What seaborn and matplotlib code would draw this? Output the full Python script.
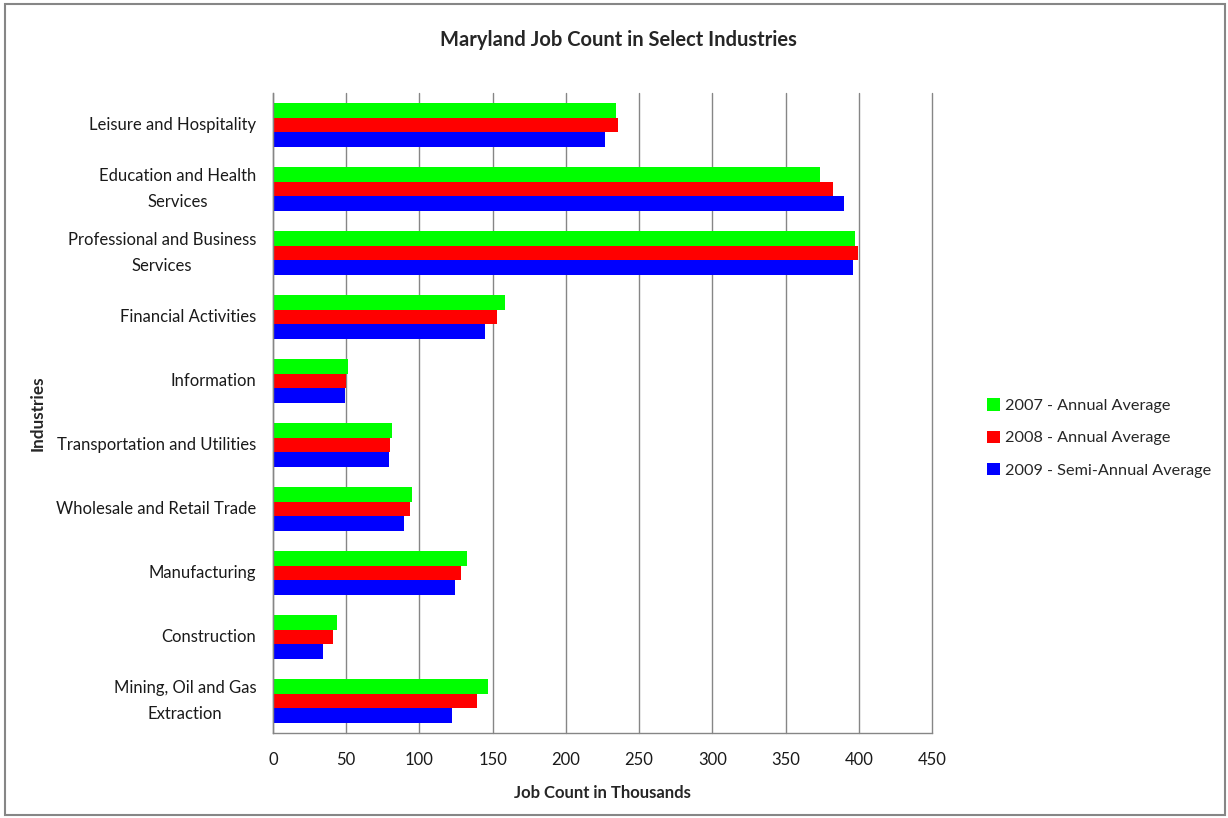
import matplotlib
matplotlib.use("Agg")
import matplotlib.pyplot as plt
import seaborn as sns
import pandas as pd
import numpy as np
from matplotlib.patches import Rectangle

industries = ["Leisure and Hospitality", "Education and Health\nServices",
              "Professional and Business\nServices", "Financial Activities",
              "Information", "Transportation and Utilities",
              "Wholesale and Retail Trade", "Manufacturing", "Construction",
              "Mining, Oil and Gas\nExtraction"]
series_names = ["2007 - Annual Average", "2008 - Annual Average",
                "2009 - Semi-Annual Average"]
v2007 = [234.0, 373.3, 397.2, 158.2, 51.0, 81.0, 94.7, 132.3, 43.5, 146.6]
v2008 = [235.4, 382.2, 399.3, 152.8, 49.6, 79.7, 93.4, 128.2, 40.8, 139.1]
v2009 = [226.5, 389.7, 395.8, 144.6, 49.0, 79.0, 89.3, 124.1, 34.0, 122.0]
colors = ["#00ff00", "#ff0000", "#0000ff"]
x_ticks = [0, 50, 100, 150, 200, 250, 300, 350, 400, 450]

rows = []
for name, vals in zip(series_names, [v2007, v2008, v2009]):
    for ind, v in zip(industries, vals):
        rows.append({"Industry": ind, "Series": name, "Value": v})
df = pd.DataFrame(rows)

sns.set_theme(style="white")
plt.rcParams["font.family"] = ["Lato", "DejaVu Sans"]

fig = plt.figure(figsize=(12.28, 8.18), dpi=100)
ax = fig.add_axes([273 / 1228, 1 - 733 / 818, (932 - 273) / 1228, (733 - 93) / 818])

sns.barplot(data=df, y="Industry", x="Value", hue="Series", order=industries,
            hue_order=series_names, palette=colors, width=0.69, saturation=1,
            orient="h", ax=ax, edgecolor="none", linewidth=0)

ax.set_xlim(0, 450)
ax.set_xticks(x_ticks)
ax.set_xticklabels([str(t) for t in x_ticks], fontsize=12, color="#1a1a1a")
ax.set_ylim(len(industries) - 0.5, -0.5)
ax.tick_params(axis="y", which="major", length=0, pad=12, labelsize=12, labelcolor="#1a1a1a")
ax.tick_params(axis="x", which="major", length=6, width=1, color="#868686",
               direction="out", pad=8)
for lab in ax.get_yticklabels():
    lab.set_multialignment("center")
    lab.set_linespacing(1.7)
    lab.set_verticalalignment("center")
ax.set_yticks(np.arange(-0.5, len(industries), 1.0), minor=True)
ax.tick_params(axis="y", which="minor", length=5, width=1, color="#868686", direction="out")

ax.grid(axis="x", color="#868686", linewidth=1)
for gl in ax.get_xgridlines():
    gl.set_clip_on(False)
ax.set_axisbelow(True)
for s in ["top", "right"]:
    ax.spines[s].set_visible(False)
for s in ["left", "bottom"]:
    ax.spines[s].set_color("#868686")
    ax.spines[s].set_linewidth(1)

ax.set_xlabel("Job Count in Thousands", fontsize=12, fontweight="bold", labelpad=12)
ax.set_ylabel("")
fig.text(38 / 1228, 1 - 413 / 818, "Industries", rotation=90, fontsize=12.3,
         fontweight="bold", ha="center", va="center")
fig.text(618 / 1228, 1 - 40 / 818, "Maryland Job Count in Select Industries",
         fontsize=14.5, fontweight="bold", ha="center", va="center")

handles, labels = ax.get_legend_handles_labels()
ax.legend(handles, labels, loc="center left", bbox_to_anchor=(972 / 1228, 1 - 438 / 818),
          bbox_transform=fig.transFigure, frameon=False, fontsize=11.7,
          handlelength=0.8, handleheight=0.8, handletextpad=0.35, labelspacing=1.08)

fig.patches.append(Rectangle((5 / 1228, 3 / 818), 1220 / 1228, 811 / 818,
                             transform=fig.transFigure, fill=False,
                             edgecolor="#868686", linewidth=1.5))

fig.savefig("out.png", dpi=100)
